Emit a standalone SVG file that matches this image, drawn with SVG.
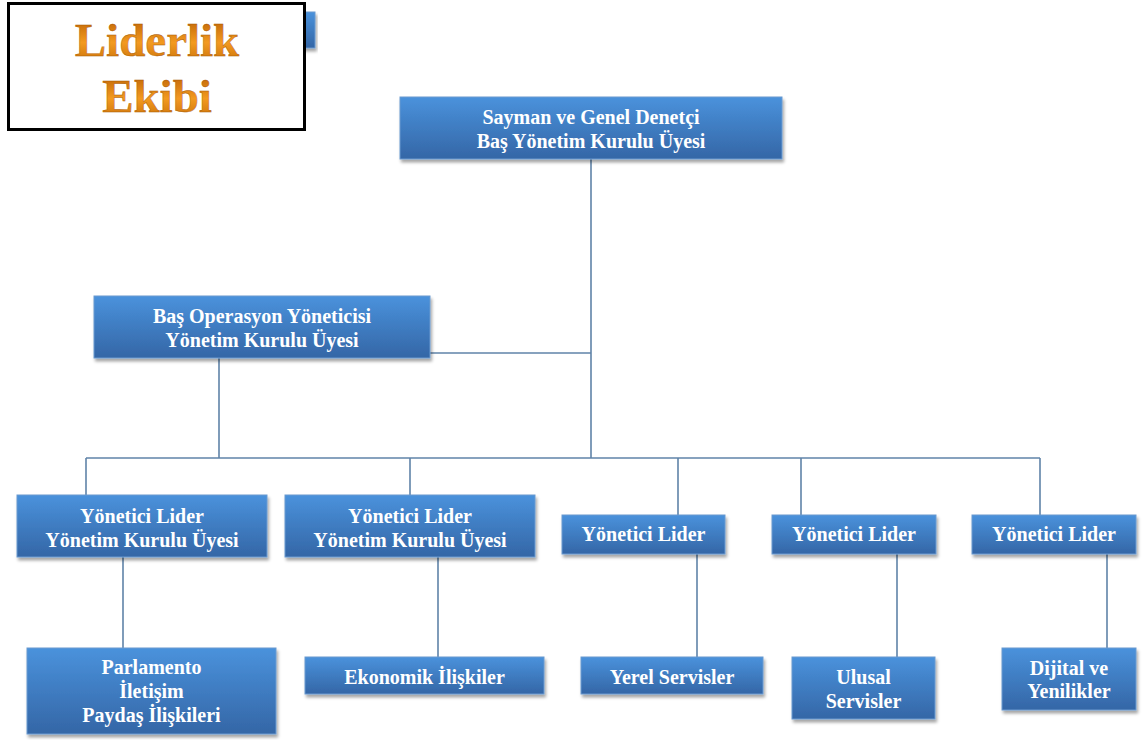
<svg xmlns="http://www.w3.org/2000/svg" width="1147" height="740" viewBox="0 0 1147 740">
  <defs>
    <linearGradient id="boxFill" x1="0" y1="0" x2="0" y2="1">
      <stop offset="0" stop-color="#4a92dc"/>
      <stop offset="1" stop-color="#3466a6"/>
    </linearGradient>
    <linearGradient id="titleFill" x1="0" y1="0" x2="0" y2="1">
      <stop offset="0" stop-color="#b55a00"/>
      <stop offset="0.55" stop-color="#f39a20"/>
      <stop offset="1" stop-color="#c46c08"/>
    </linearGradient>
    <filter id="shadow" x="-10%" y="-20%" width="120%" height="150%">
      <feDropShadow dx="1.5" dy="3" stdDeviation="1.8" flood-color="#000" flood-opacity="0.35"/>
    </filter>
  </defs>
  <style>
    .box { fill: url(#boxFill); stroke: #6a9ad0; stroke-width: 1; filter: url(#shadow); }
    .lbl { font-family: "Liberation Serif", "Times New Roman", serif; font-weight: bold; font-size: 20px; fill: #ffffff; text-anchor: middle; }
    .wire { stroke: #5f83a8; stroke-width: 1.6; fill: none; }
    .title { font-family: "Liberation Serif", "Times New Roman", serif; font-weight: bold; font-size: 47px; fill: url(#titleFill); stroke: #a85500; stroke-width: 0.4; text-anchor: middle; }
  </style>
  <rect width="1147" height="740" fill="#ffffff"/>

  <!-- title card -->
  <g id="title">
    <rect x="290" y="12" width="25" height="36" class="box"/>
    <rect x="8.5" y="3.5" width="296" height="126" fill="#ffffff" stroke="#000000" stroke-width="3"/>
    <text class="title" x="157" y="56">Liderlik</text>
    <text class="title" x="157" y="112">Ekibi</text>
  </g>

  <!-- connectors -->
  <g id="connectors" class="wire">
    <path d="M591 159 V458"/>
    <path d="M430 353 H591"/>
    <path d="M219 358 V458"/>
    <path d="M86 458 H1040"/>
    <path d="M86 458 V495"/>
    <path d="M410 458 V495"/>
    <path d="M678 458 V515"/>
    <path d="M801 458 V515"/>
    <path d="M1040 458 V515"/>
    <path d="M123 557 V648"/>
    <path d="M438 557 V657"/>
    <path d="M697 554 V657"/>
    <path d="M897 554 V657"/>
    <path d="M1107 554 V648"/>
  </g>

  <g id="sayman">
    <rect x="400" y="97" width="382" height="62" class="box"/>
    <text class="lbl" x="591" y="124">Sayman ve Genel Denetçi</text>
    <text class="lbl" x="591" y="148">Baş Yönetim Kurulu Üyesi</text>
  </g>

  <g id="operasyon">
    <rect x="94" y="296" width="336" height="62" class="box"/>
    <text class="lbl" x="262" y="323">Baş Operasyon Yöneticisi</text>
    <text class="lbl" x="262" y="347">Yönetim Kurulu Üyesi</text>
  </g>

  <g id="lider1">
    <rect x="17" y="495" width="250" height="62" class="box"/>
    <text class="lbl" x="142" y="523">Yönetici Lider</text>
    <text class="lbl" x="142" y="547">Yönetim Kurulu Üyesi</text>
  </g>

  <g id="lider2">
    <rect x="285" y="495" width="250" height="62" class="box"/>
    <text class="lbl" x="410" y="523">Yönetici Lider</text>
    <text class="lbl" x="410" y="547">Yönetim Kurulu Üyesi</text>
  </g>

  <g id="lider3">
    <rect x="562" y="515" width="163" height="39" class="box"/>
    <text class="lbl" x="643.5" y="541">Yönetici Lider</text>
  </g>

  <g id="lider4">
    <rect x="772" y="515" width="164" height="39" class="box"/>
    <text class="lbl" x="854" y="541">Yönetici Lider</text>
  </g>

  <g id="lider5">
    <rect x="972" y="515" width="164" height="39" class="box"/>
    <text class="lbl" x="1054" y="541">Yönetici Lider</text>
  </g>

  <g id="parlamento">
    <rect x="27" y="648" width="249" height="86" class="box"/>
    <text class="lbl" x="151.5" y="674">Parlamento</text>
    <text class="lbl" x="151.5" y="698">İletişim</text>
    <text class="lbl" x="151.5" y="722">Paydaş İlişkileri</text>
  </g>

  <g id="ekonomik">
    <rect x="305" y="657" width="239" height="37" class="box"/>
    <text class="lbl" x="424.5" y="684">Ekonomik İlişkiler</text>
  </g>

  <g id="yerel">
    <rect x="581" y="657" width="182" height="37" class="box"/>
    <text class="lbl" x="672" y="684">Yerel Servisler</text>
  </g>

  <g id="ulusal">
    <rect x="792" y="657" width="143" height="62" class="box"/>
    <text class="lbl" x="863.5" y="684">Ulusal</text>
    <text class="lbl" x="863.5" y="708">Servisler</text>
  </g>

  <g id="dijital">
    <rect x="1002" y="648" width="134" height="62" class="box"/>
    <text class="lbl" x="1069" y="675">Dijital ve</text>
    <text class="lbl" x="1069" y="698">Yenilikler</text>
  </g>
</svg>
